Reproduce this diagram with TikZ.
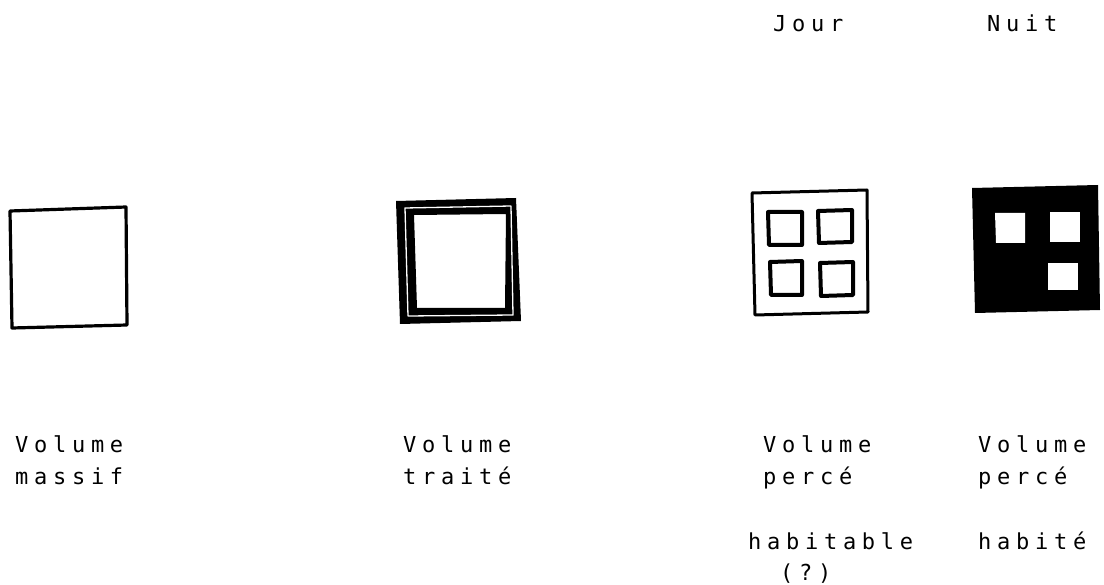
\documentclass[tikz,border=0pt]{standalone}
\usepackage{fontspec}
\newfontfamily\dotfont[LetterSpace=26]{DejaVu Sans Mono}
\begin{document}
\begin{tikzpicture}[x=1pt,y=-1pt,
  lbl/.style={anchor=base west,inner sep=0pt,font=\dotfont\fontsize{22pt}{26pt}\selectfont},
  sketch/.style={line join=round,line cap=round,draw=black},
  win/.style={sketch,line width=4pt}]
\useasboundingbox (0,0) rectangle (1104,585);
\fill[white] (0,0) rectangle (1104,585);

% Volume massif
\draw[sketch,line width=3.2pt] (10,211) -- (126,207) -- (127,325) -- (12,328) -- cycle;

% Volume traite
\fill[black,even odd rule,line join=round] (396,201) -- (516,198) -- (521,321) -- (400,324) -- cycle
  (414,215) -- (506,214) -- (505,308) -- (417,308) -- cycle;
\draw[white,line width=1.3pt,line join=round] (405,208) -- (511,206) -- (513,315) -- (408,316) -- cycle;

% Volume perce habitable
\draw[sketch,line width=3pt] (752,193) -- (867,190) -- (868,312) -- (755,315) -- cycle;
\draw[win] (768,212) -- (802,212) -- (802,245) -- (769,245) -- cycle;
\draw[win] (818,211) -- (852,210) -- (852,242) -- (819,243) -- cycle;
\draw[win] (770,262) -- (802,261) -- (802,295) -- (771,295) -- cycle;
\draw[win] (820,263) -- (853,262) -- (853,295) -- (821,296) -- cycle;

% Volume perce habite
\fill[black,line join=round] (972,188) -- (1098,185) -- (1100,310) -- (975,313) -- cycle;
\fill[white] (995,213) -- (1025,213) -- (1025,243) -- (996,243) -- cycle;
\fill[white] (1050,212) -- (1080,212) -- (1080,242) -- (1050,242) -- cycle;
\fill[white] (1048,263) -- (1078,263) -- (1078,290) -- (1048,290) -- cycle;

% Labels
\node[lbl] (jour) at (773,32) {Jour};
\node[lbl] (nuit) at (987,32) {Nuit};

\node[lbl] (v1) at (15,453) {Volume};
\node[lbl] (m1) at (15,485) {massif};
\node[lbl] (v2) at (403,453) {Volume};
\node[lbl] (t2) at (403,485) {traité};
\node[lbl] (v3) at (763,453) {Volume};
\node[lbl] (p3) at (763,485) {percé};
\node[lbl] (h3) at (748,549) {habitable};
\node[lbl] (q3) at (780,580) {(?)};
\node[lbl] (v4) at (978,453) {Volume};
\node[lbl] (p4) at (978,485) {percé};
\node[lbl] (h4) at (978,549) {habité};
\end{tikzpicture}
\end{document}
